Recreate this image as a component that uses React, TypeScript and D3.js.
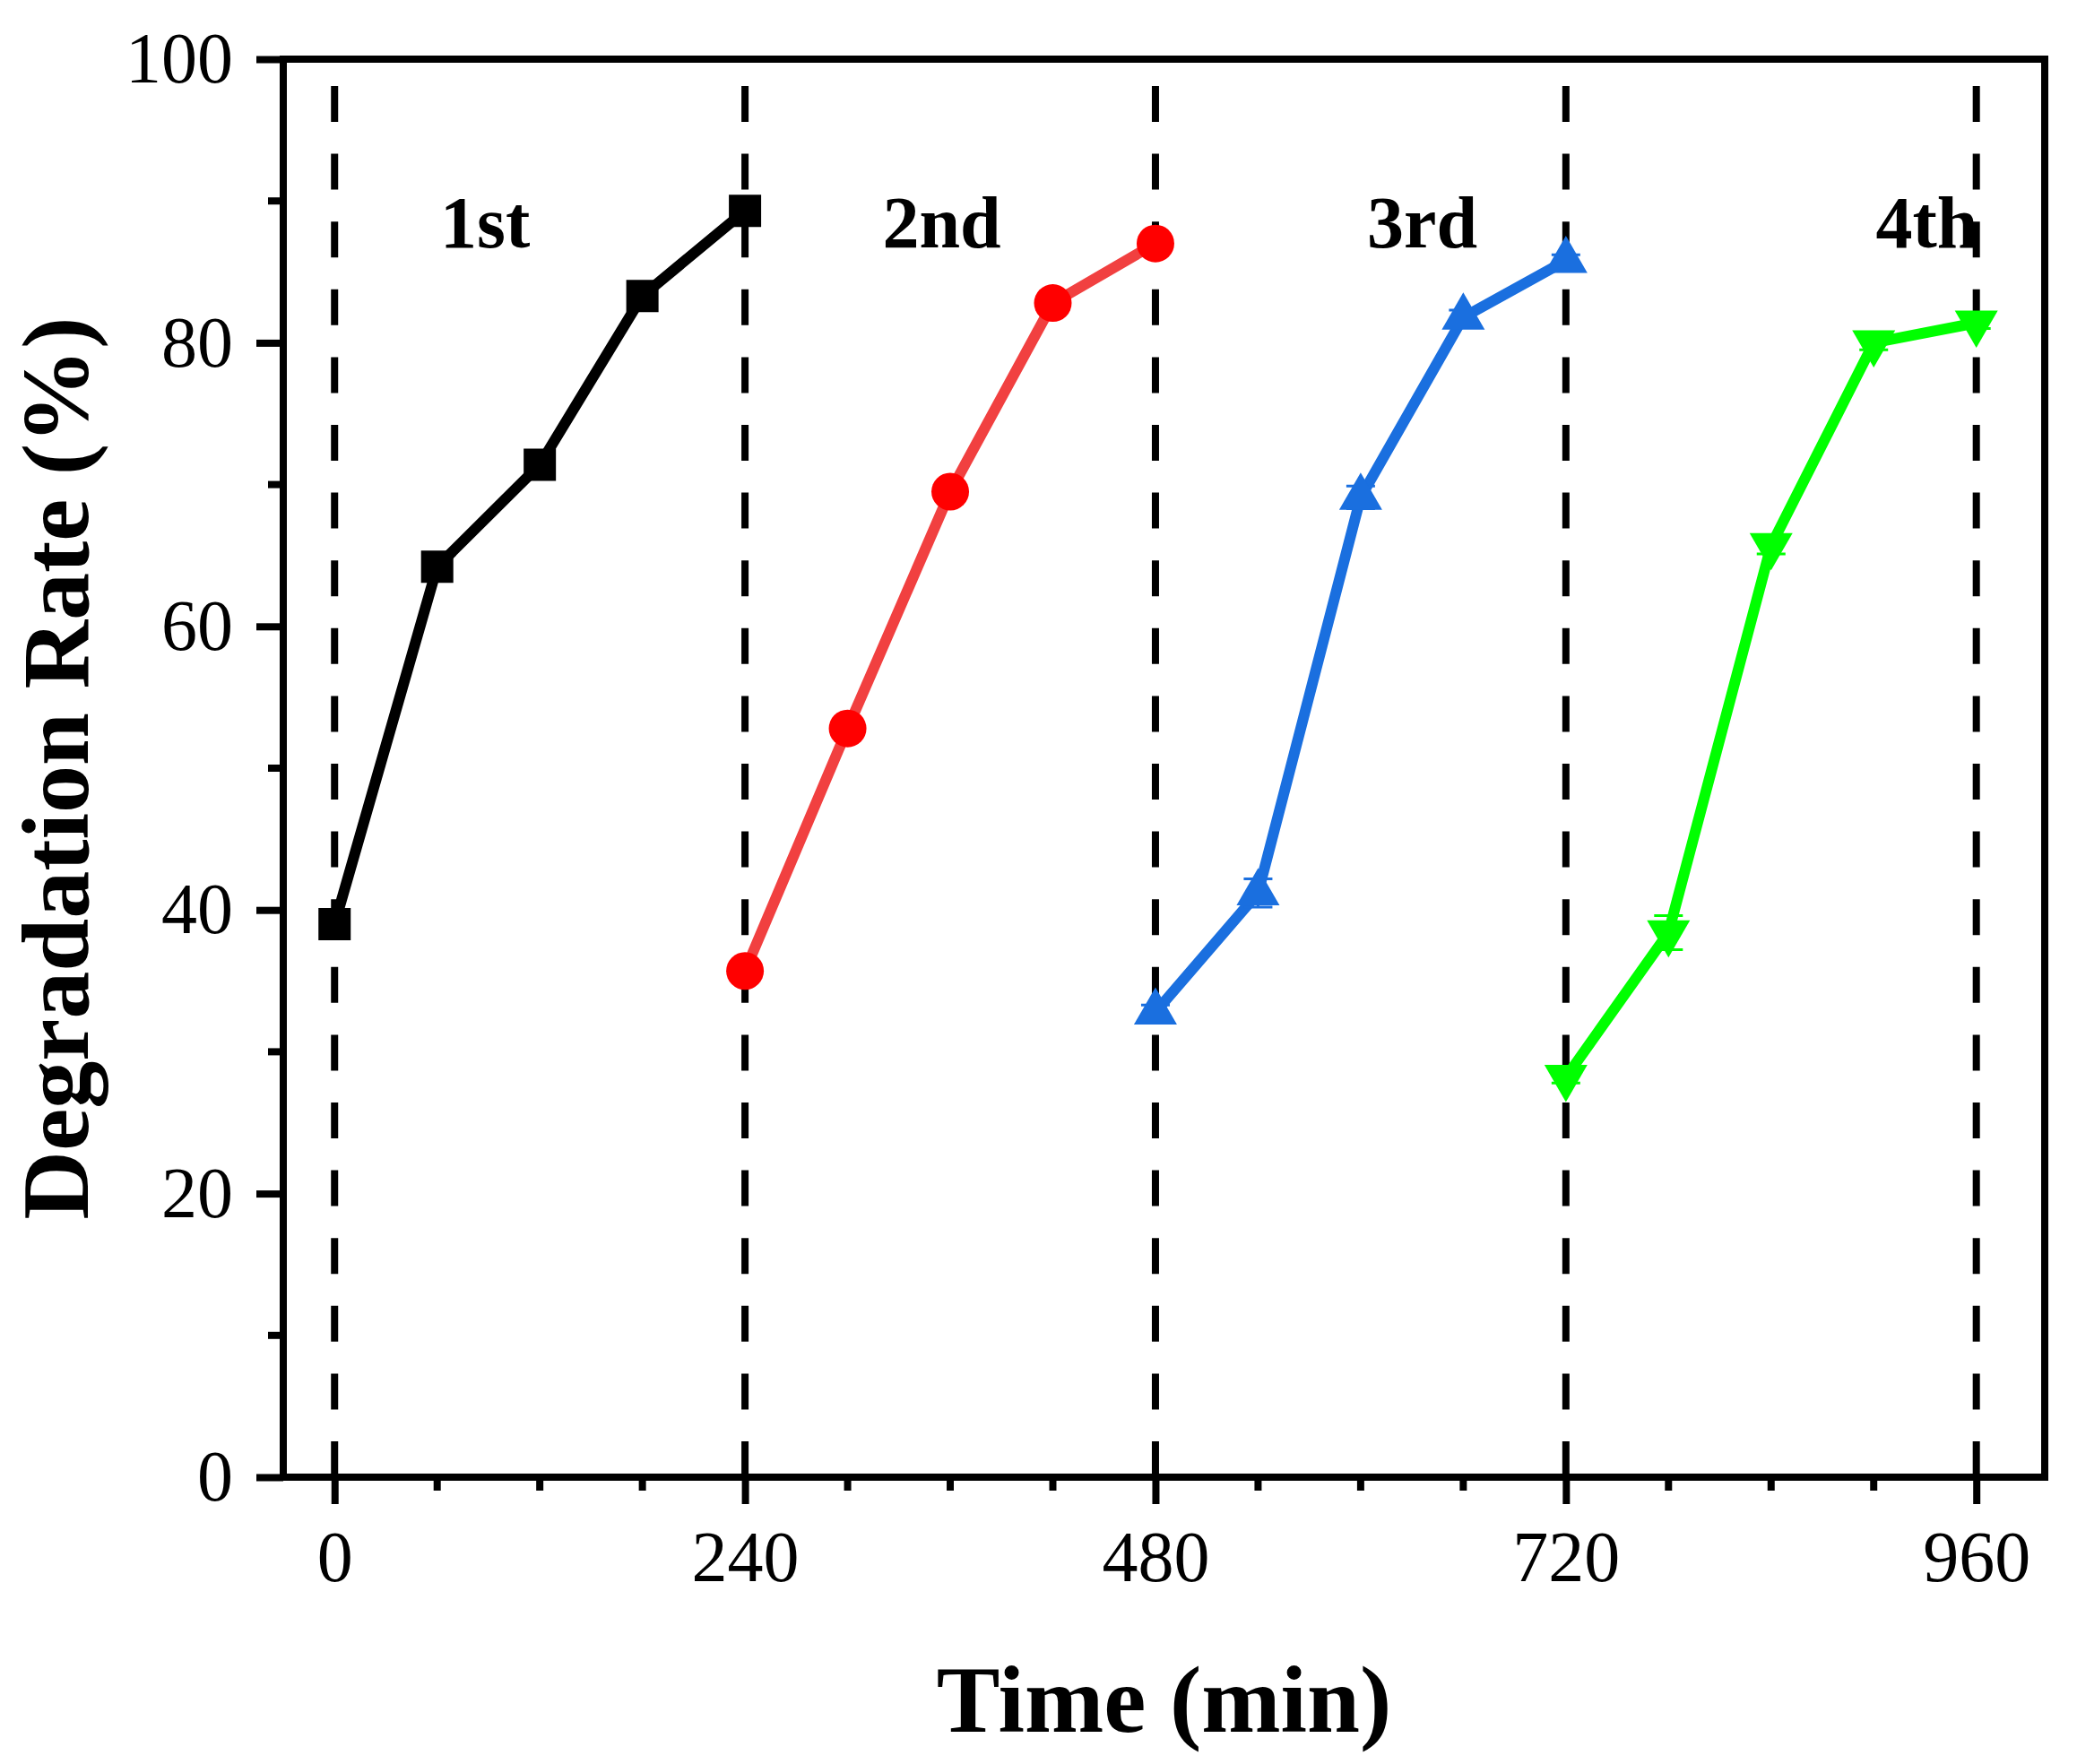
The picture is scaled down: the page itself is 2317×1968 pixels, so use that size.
import { useRef, useEffect } from "react";
import * as d3 from "d3";

// Time points for each run (min)
const run1Time = [0, 60, 120, 180, 240];
const run2Time = [240, 300, 360, 420, 480];
const run3Time = [480, 540, 600, 660, 720];
const run4Time = [720, 780, 840, 900, 960];

// Degradation rate (%)
const run1Rate = [39.0, 64.2, 71.4, 83.3, 89.3];
const run2Rate = [35.7, 52.8, 69.5, 82.8, 87.0];
const run3Rate = [32.8, 41.2, 69.1, 81.8, 85.8];
const run4Rate = [28.2, 38.4, 65.7, 80.0, 81.4];

// small error bars
const run1Err = [0.3, 0.4, 0.6, 0.5, 0.4];
const run2Err = [0.4, 0.6, 0.5, 0.4, 0.3];
const run3Err = [0.5, 1.0, 0.8, 0.5, 0.4];
const run4Err = [0.4, 1.2, 0.6, 0.5, 0.4];

const runLabels = ["1st", "2nd", "3rd", "4th"];
const runLabelX = [88, 355, 636, 931];
const runLabelY = 86.7;

const cycleBounds = [0, 240, 480, 720, 960];
const xMajorTicks = [0, 240, 480, 720, 960];
const xMinorTicks = [60, 120, 180, 300, 360, 420, 540, 600, 660, 780, 840, 900];
const yMajorTicks = [0, 20, 40, 60, 80, 100];
const yMinorTicks = [10, 30, 50, 70, 90];

const WIDTH = 2317;
const HEIGHT = 1968;
const FONT = "'Liberation Serif', 'Times New Roman', serif";

type Run = {
  time: number[];
  rate: number[];
  err: number[];
  line: string;
  marker: string;
  symbol: "square" | "circle" | "up" | "down";
};

const runs: Run[] = [
  { time: run1Time, rate: run1Rate, err: run1Err, line: "#000000", marker: "#000000", symbol: "square" },
  { time: run2Time, rate: run2Rate, err: run2Err, line: "#F14040", marker: "#FF0000", symbol: "circle" },
  { time: run3Time, rate: run3Rate, err: run3Err, line: "#1A6FDF", marker: "#1A6FDF", symbol: "up" },
  { time: run4Time, rate: run4Rate, err: run4Err, line: "#00FF00", marker: "#00FF00", symbol: "down" },
];

export default function App() {
  const svgRef = useRef<SVGSVGElement>(null);

  useEffect(() => {
    if (!svgRef.current) return;
    const svg = d3.select(svgRef.current);
    svg.selectAll("*").remove();

    const margin = { left: 316, right: WIDTH - 2281, top: 66, bottom: HEIGHT - 1648 };
    const x = d3.scaleLinear().domain([-30, 1000]).range([margin.left, WIDTH - margin.right]);
    const y = d3.scaleLinear().domain([0, 100]).range([HEIGHT - margin.bottom, margin.top]);

    svg.append("rect").attr("width", WIDTH).attr("height", HEIGHT).attr("fill", "#fff");

    // Dashed cycle separators
    cycleBounds.forEach((t) => {
      svg
        .append("line")
        .attr("x1", x(t))
        .attr("x2", x(t))
        .attr("y1", y(0))
        .attr("y2", y(100))
        .attr("stroke", "#000")
        .attr("stroke-width", 8)
        .attr("stroke-dasharray", "40,35.6");
    });

    // Series
    runs.forEach((r) => {
      const pts = r.time.map((t, i) => ({ t, v: r.rate[i], e: r.err[i] }));
      const line = d3
        .line<{ t: number; v: number }>()
        .x((d) => x(d.t))
        .y((d) => y(d.v));

      svg
        .append("path")
        .datum(pts)
        .attr("fill", "none")
        .attr("stroke", r.line)
        .attr("stroke-width", 12)
        .attr("stroke-linejoin", "round")
        .attr("d", line);

      // error bars
      pts.forEach((p) => {
        const g = svg.append("g").attr("stroke", r.marker).attr("stroke-width", 3);
        g.append("line").attr("x1", x(p.t)).attr("x2", x(p.t)).attr("y1", y(p.v - p.e)).attr("y2", y(p.v + p.e));
        [p.v - p.e, p.v + p.e].forEach((v) => {
          g.append("line")
            .attr("x1", x(p.t) - 16)
            .attr("x2", x(p.t) + 16)
            .attr("y1", y(v))
            .attr("y2", y(v));
        });
      });

      let sym: d3.SymbolType = d3.symbolSquare;
      let size = 36 * 36;
      if (r.symbol === "circle") {
        sym = d3.symbolCircle;
        size = Math.PI * 21 * 21;
      } else if (r.symbol === "up" || r.symbol === "down") {
        sym = d3.symbolTriangle;
        size = (Math.sqrt(3) / 4) * 48 * 48;
      }
      const rot = r.symbol === "down" ? 180 : 0;
      pts.forEach((p) => {
        svg
          .append("path")
          .attr("d", d3.symbol().type(sym).size(size)())
          .attr("transform", `translate(${x(p.t)},${y(p.v)}) rotate(${rot})`)
          .attr("fill", r.marker);
      });
    });

    // Run labels
    runLabels.forEach((lab, i) => {
      svg
        .append("text")
        .attr("x", x(runLabelX[i]))
        .attr("y", y(runLabelY))
        .attr("text-anchor", "middle")
        .attr("font-family", FONT)
        .attr("font-weight", "bold")
        .attr("font-size", "82px")
        .attr("fill", "#000")
        .text(lab);
    });

    // Axes
    const xAxis = d3
      .axisBottom(x)
      .tickValues(xMajorTicks)
      .tickSize(30)
      .tickSizeOuter(0)
      .tickPadding(29)
      .tickFormat(d3.format("d"));
    const gx = svg
      .append("g")
      .attr("transform", `translate(0,${y(0)})`)
      .call(xAxis);
    gx.select(".domain").remove();
    gx.selectAll("line").attr("stroke", "#000").attr("stroke-width", 8);
    gx.selectAll("text")
      .attr("font-family", FONT)
      .attr("font-size", "80px")
      .attr("fill", "#000");

    const yAxis = d3
      .axisLeft(y)
      .tickValues(yMajorTicks)
      .tickSize(30)
      .tickSizeOuter(0)
      .tickPadding(26)
      .tickFormat(d3.format("d"));
    const gy = svg
      .append("g")
      .attr("transform", `translate(${x(-30)},0)`)
      .call(yAxis);
    gy.select(".domain").remove();
    gy.selectAll("line").attr("stroke", "#000").attr("stroke-width", 8);
    gy.selectAll("text")
      .attr("font-family", FONT)
      .attr("font-size", "80px")
      .attr("fill", "#000");

    // Minor ticks
    xMinorTicks.forEach((t) => {
      svg
        .append("line")
        .attr("x1", x(t))
        .attr("x2", x(t))
        .attr("y1", y(0))
        .attr("y2", y(0) + 15)
        .attr("stroke", "#000")
        .attr("stroke-width", 8);
    });
    yMinorTicks.forEach((v) => {
      svg
        .append("line")
        .attr("x1", x(-30))
        .attr("x2", x(-30) - 17)
        .attr("y1", y(v))
        .attr("y2", y(v))
        .attr("stroke", "#000")
        .attr("stroke-width", 8);
    });

    // Frame
    svg
      .append("rect")
      .attr("x", x(-30))
      .attr("y", y(100))
      .attr("width", x(1000) - x(-30))
      .attr("height", y(0) - y(100))
      .attr("fill", "none")
      .attr("stroke", "#000")
      .attr("stroke-width", 8)
      .attr("stroke-linecap", "square");

    // Axis titles
    svg
      .append("text")
      .attr("x", (x(-30) + x(1000)) / 2)
      .attr("y", 1932)
      .attr("text-anchor", "middle")
      .attr("font-family", FONT)
      .attr("font-weight", "bold")
      .attr("font-size", "106px")
      .attr("fill", "#000")
      .text("Time (min)");

    svg
      .append("text")
      .attr("transform", `translate(98,${(y(0) + y(100)) / 2}) rotate(-90)`)
      .attr("text-anchor", "middle")
      .attr("font-family", FONT)
      .attr("font-weight", "bold")
      .attr("font-size", "106px")
      .attr("fill", "#000")
      .text("Degradation Rate (%)");
  }, []);

  return (
    <svg
      ref={svgRef}
      width={WIDTH}
      height={HEIGHT}
      style={{ position: "absolute", left: 0, top: 0, display: "block" }}
    />
  );
}
